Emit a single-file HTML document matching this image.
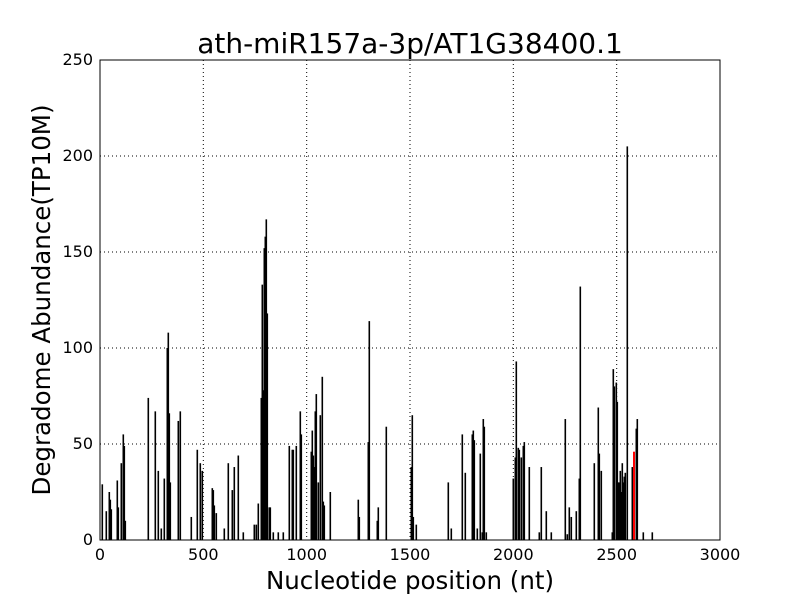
<!DOCTYPE html><html><head><style>body{margin:0;background:#fff}svg{display:block}text{font-family:"DejaVu Sans","Liberation Sans",sans-serif}</style></head><body>
<svg width="800" height="600" xmlns="http://www.w3.org/2000/svg">
<rect width="800" height="600" fill="#fff"/>
<g stroke="#000" stroke-width="1" stroke-dasharray="1,3">
<line x1="203.3" y1="60" x2="203.3" y2="540"/><line x1="306.7" y1="60" x2="306.7" y2="540"/><line x1="410" y1="60" x2="410" y2="540"/><line x1="513.3" y1="60" x2="513.3" y2="540"/><line x1="616.7" y1="60" x2="616.7" y2="540"/>
<line x1="100" y1="156" x2="720" y2="156"/><line x1="100" y1="252" x2="720" y2="252"/><line x1="100" y1="348" x2="720" y2="348"/><line x1="100" y1="444" x2="720" y2="444"/>
</g>
<g id="b" fill="#000"></g>
<rect x="100" y="60" width="620" height="480" fill="none" stroke="#000" stroke-width="1"/>
<g font-size="16" fill="#000">
<text x="100" y="560" text-anchor="middle">0</text><text x="203.3" y="560" text-anchor="middle">500</text><text x="306.7" y="560" text-anchor="middle">1000</text><text x="410" y="560" text-anchor="middle">1500</text><text x="513.3" y="560" text-anchor="middle">2000</text><text x="616.7" y="560" text-anchor="middle">2500</text><text x="720" y="560" text-anchor="middle">3000</text>
<text x="93" y="545" text-anchor="end">0</text><text x="93" y="449" text-anchor="end">50</text><text x="93" y="353" text-anchor="end">100</text><text x="93" y="257" text-anchor="end">150</text><text x="93" y="161" text-anchor="end">200</text><text x="93" y="65" text-anchor="end">250</text>
</g>
<text x="410" y="53" font-size="28" text-anchor="middle">ath-miR157a-3p/AT1G38400.1</text>
<text x="410" y="589" font-size="24.5" text-anchor="middle">Nucleotide position (nt)</text>
<text x="50" y="300" font-size="24.5" text-anchor="middle" transform="rotate(-90 50 300)">Degradome Abundance(TP10M)</text>
</svg>
<script>
var d=[[102,29],[106,15],[109,25],[110,21],[111,16],[117,31],[118,17],[121,40],[123,55],[124,49],[125,10],[148,74],[155,67],[158,36],[161,6],[164,32],[167,100],[168,108],[169,66],[170,30],[178,62],[180,67],[191,12],[197,47],[200,40],[202,36],[212,27],[213,26],[214,18],[216,14],[224,6],[228,40],[232,26],[234,38],[238,44],[243,4],[254,8],[256,8],[258,19],[261,74],[262,133],[263,78],[264,152],[265,158],[266,167],[267,118],[269,17],[270,17],[273,4],[278,4],[283,4],[289,49],[292,47],[293,47],[296,49],[300,67],[301,55],[311,46],[312,57],[313,44],[314,38],[315,67],[316,76],[318,30],[320,65],[322,85],[323,20],[324,18],[330,25],[358,21],[359,12],[368,51],[369,114],[377,10],[378,17],[386,59],[411,38],[412,65],[413,12],[416,8],
[448,30],[451,6],[462,55],[465,35],[472,55],[473,57],[474,52],[477,6],[480,45],[482,4],[483,63],[484,59],[486,4],[513,32],[515,43],[516,93],[518,48],[519,47],[521,43],[523,49],[524,51],[529,38],[539,4],[541,38],[546,15],[551,4],[565,63],[567,3],[569,17],[571,12],[576,15],[579,32],[580,132],[594,40],[598,69],[599,45],[601,36],[612,4],[613,89],[614,80],[616,82],[617,72],[618,30],[619,30],[620,36],[621,25],[622,40],[623,30],[624,33],[625,35],[627,205],[632,38],[636,58],[637,63],[643,4],[652,4]];
var g=document.getElementById('b'),s='';
d.forEach(function(p){var h=p[1]*1.92;s+='<rect x="'+(p[0]-0.5)+'" y="'+(540-h)+'" width="1.6" height="'+h+'"/>';});
s+='<rect x="633" y="'+(540-46*1.92)+'" width="2" height="'+(46*1.92)+'" fill="#f00"/>';
g.innerHTML=s;
</script>
</body></html>
